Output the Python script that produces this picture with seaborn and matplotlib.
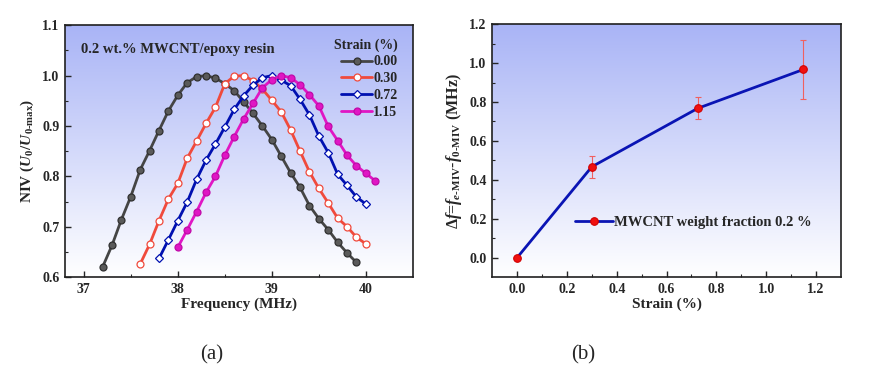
import numpy as np
import pandas as pd
import matplotlib.pyplot as plt
import seaborn as sns
from matplotlib.colors import LinearSegmentedColormap

# ---- data ----
freq_000 = np.round(np.arange(37.2, 39.95, 0.1), 1)
niv_000 = [0.620, 0.663, 0.714, 0.760, 0.813, 0.851, 0.891, 0.930, 0.961, 0.986,
           0.998, 1.000, 0.995, 0.984, 0.970, 0.948, 0.925, 0.900, 0.873, 0.840,
           0.807, 0.778, 0.742, 0.716, 0.694, 0.669, 0.648, 0.629]

freq_030 = np.round(np.arange(37.6, 40.05, 0.1), 1)
niv_030 = [0.626, 0.665, 0.712, 0.755, 0.786, 0.836, 0.870, 0.905, 0.937, 0.984,
           0.999, 1.000, 0.990, 0.973, 0.951, 0.928, 0.892, 0.850, 0.809, 0.776,
           0.747, 0.717, 0.700, 0.679, 0.666]

freq_072 = np.round(np.arange(37.8, 40.05, 0.1), 1)
niv_072 = [0.637, 0.674, 0.712, 0.749, 0.794, 0.832, 0.864, 0.898, 0.933, 0.960,
           0.981, 0.996, 1.000, 0.991, 0.980, 0.953, 0.922, 0.880, 0.847, 0.804,
           0.782, 0.759, 0.745]

freq_115 = np.round(np.arange(38.0, 40.15, 0.1), 1)
niv_115 = [0.659, 0.694, 0.730, 0.768, 0.800, 0.842, 0.879, 0.914, 0.945, 0.976,
           0.992, 1.000, 0.996, 0.982, 0.962, 0.940, 0.899, 0.871, 0.842, 0.821,
           0.806, 0.791]

strain = [0.0, 0.30, 0.725, 1.15]
delta_f = [0.0, 0.467, 0.767, 0.967]
delta_err = [0.0, 0.057, 0.057, 0.153]

sns.set_style("ticks")
plt.rcParams['font.family'] = ['Liberation Serif', 'DejaVu Serif']
plt.rcParams['font.weight'] = 'bold'
plt.rcParams['axes.labelweight'] = 'bold'
plt.rcParams['mathtext.fontset'] = 'custom'
plt.rcParams['mathtext.rm'] = 'Liberation Serif'
plt.rcParams['mathtext.it'] = 'Liberation Serif:italic'
plt.rcParams['mathtext.bf'] = 'Liberation Serif:bold'
plt.rcParams['mathtext.bfit'] = 'Liberation Serif:italic:bold'
plt.rcParams['xtick.direction'] = 'in'
plt.rcParams['ytick.direction'] = 'in'

fig = plt.figure(figsize=(8.72, 3.77), dpi=100)
ax1 = fig.add_axes([0.0745, 0.265, 0.399, 0.668])
ax2 = fig.add_axes([0.5645, 0.265, 0.3997, 0.671])

cmap = LinearSegmentedColormap.from_list('bg', ['#ffffff', '#a9b4f6'])
grad = np.linspace(0, 1, 256).reshape(-1, 1)
for ax in (ax1, ax2):
    ax.imshow(grad, extent=[0, 1, 0, 1], transform=ax.transAxes, aspect='auto',
              cmap=cmap, origin='lower', zorder=0)

# ---- (a) ----
series = [
    ('0.00', freq_000, niv_000, '#454545', 'o', '#5a5a5a', '#303030'),
    ('0.30', freq_030, niv_030, '#f04a3c', 'o', 'white', '#f04a3c'),
    ('0.72', freq_072, niv_072, '#0010b0', 'D', 'white', '#0010b0'),
    ('1.15', freq_115, niv_115, '#e016c4', 'o', '#e016c4', '#c00aa8'),
]
for name, fx, fy, col, mk, mfc, mec in series:
    sns.lineplot(x=fx, y=fy, ax=ax1, color=col, lw=2, marker=mk,
                 markersize=5 if mk == 'o' else 4.3, markerfacecolor=mfc,
                 markeredgecolor=mec, markeredgewidth=0.9, label=name, zorder=3)

ax1.set_xlim(36.8, 40.5)
ax1.set_ylim(0.6, 1.1)
ax1.set_xticks([37, 38, 39, 40])
ax1.set_xticks([37.5, 38.5, 39.5], minor=True)
ax1.set_yticks([0.6, 0.7, 0.8, 0.9, 1.0, 1.1])
ax1.set_yticks([0.65, 0.75, 0.85, 0.95, 1.05], minor=True)
ax1.set_xlabel('Frequency (MHz)', fontsize=11, labelpad=1)
ax1.set_ylabel(r'NIV ($\mathbfit{U}_\mathbf{0}$/$\mathbfit{U}_\mathbf{0\text{-}max}$)',
               fontsize=11, labelpad=4)
ax1.text(0.046, 0.905, '0.2 wt.% MWCNT/epoxy resin', transform=ax1.transAxes,
         fontsize=10.5, fontweight='bold', va='center')
leg = ax1.legend(title='Strain (%)', loc='upper right', bbox_to_anchor=(1.0, 1.01),
                 frameon=False, fontsize=10, title_fontsize=10, handlelength=2.2,
                 handletextpad=0.1, labelspacing=0.28, borderpad=0.6)
leg.get_title().set_fontweight('bold')
leg._legend_box.align = 'right'

# ---- (b) ----
ax2.errorbar(strain, delta_f, yerr=delta_err, fmt='none', ecolor='#f06060',
             elinewidth=0.8, capsize=2.5, capthick=0.8, zorder=2)
sns.lineplot(x=strain, y=delta_f, ax=ax2, color='#0a14b4', lw=2, marker='o',
             markersize=5.5, markerfacecolor='#f01010', markeredgecolor='#d00000',
             label='MWCNT weight fraction 0.2 %', zorder=3)
ax2.set_xlim(-0.1, 1.3)
ax2.set_ylim(-0.1, 1.2)
ax2.set_xticks([0.0, 0.2, 0.4, 0.6, 0.8, 1.0, 1.2])
ax2.set_xticks(np.arange(0.1, 1.3, 0.2), minor=True)
ax2.set_yticks([0.0, 0.2, 0.4, 0.6, 0.8, 1.0, 1.2])
ax2.set_yticks(np.arange(0.1, 1.2, 0.2), minor=True)
ax2.set_xlabel('Strain (%)', fontsize=11, labelpad=1)
ax2.set_ylabel(r'$\Delta f$=$f_{e\mathrm{\text{-}MIV}}$-$f_{\mathrm{0\text{-}MIV}}$ (MHz)',
               fontsize=11.5, labelpad=4)
ax2.legend(loc='center left', bbox_to_anchor=(0.2, 0.215), frameon=False,
           fontsize=10.5, handlelength=2.6, handletextpad=0.1)

for ax in (ax1, ax2):
    ax.tick_params(which='major', length=4, width=1, labelsize=10, pad=4,
                   top=False, right=False)
    ax.tick_params(which='minor', length=2, width=0.8, top=False, right=False)
    for lbl in ax.get_xticklabels() + ax.get_yticklabels():
        lbl.set_fontweight('bold')
    for sp in ax.spines.values():
        sp.set_linewidth(1.2)
        sp.set_color('#202020')

fig.text(0.243, 0.06, '(a)', fontsize=15, fontweight='normal', ha='center', va='center')
fig.text(0.669, 0.06, '(b)', fontsize=15, fontweight='normal', ha='center', va='center')

fig.savefig('out.png', dpi=100)
